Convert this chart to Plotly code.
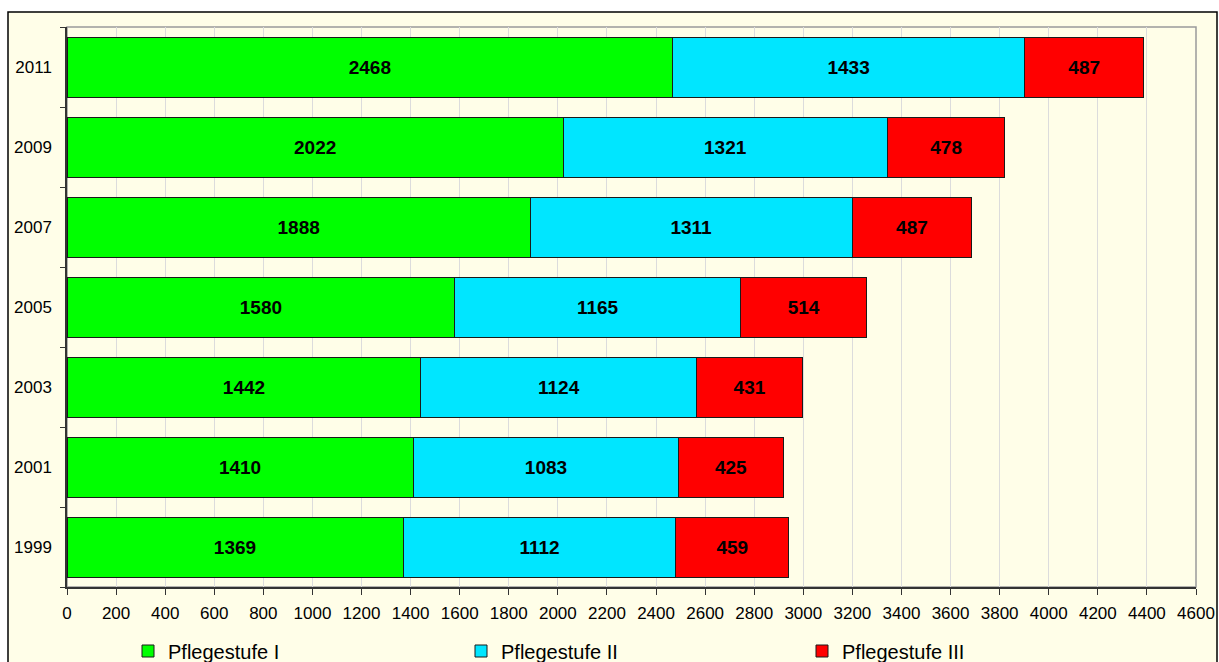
import plotly.graph_objects as go

years = ["1999", "2001", "2003", "2005", "2007", "2009", "2011"]
stufe_1 = [1369, 1410, 1442, 1580, 1888, 2022, 2468]
stufe_2 = [1112, 1083, 1124, 1165, 1311, 1321, 1433]
stufe_3 = [459, 425, 431, 514, 487, 478, 487]
series_names = ["Pflegestufe I", "Pflegestufe II", "Pflegestufe III"]
series_colors = ["#00FF00", "#00E6FF", "#FF0000"]
x_ticks = list(range(0, 4601, 200))

FONT = "Liberation Sans, Arial, sans-serif"
BG = "#FFFEE8"

W, H = 1219, 662
L, R, T, B = 67, 23, 27, 75
pw, ph = W - L - R, H - T - B

legend_ids = ["legend", "legend2", "legend3"]
legend_left_px = [128, 461, 802]

fig = go.Figure()
for name, vals, col, lg in zip(series_names, [stufe_1, stufe_2, stufe_3], series_colors, legend_ids):
    fig.add_trace(go.Bar(
        y=years, x=vals, name=name, orientation="h", legend=lg,
        marker=dict(color=col, line=dict(color="#1a1a1a", width=1)),
        text=[str(v) for v in vals], texttemplate="<b>%{text}</b>",
        textposition="inside", insidetextanchor="middle",
        textfont=dict(family=FONT, size=19, color="black"),
        constraintext="none", width=0.75,
    ))


def px_x(p):
    return (p - L) / pw


def px_y(p):
    return (H - B - p) / ph


# outer chart frame
fig.add_shape(type="rect", xref="paper", yref="paper",
              x0=px_x(8), x1=px_x(1217), y0=px_y(700), y1=px_y(12),
              line=dict(color="black", width=1.5), fillcolor=BG, layer="below")
# plot area frame
fig.add_shape(type="rect", xref="paper", yref="paper",
              x0=0, x1=1, y0=0, y1=1,
              line=dict(color="#9a9a9a", width=1.5), layer="below")

legend_style = dict(font=dict(family=FONT, size=20, color="black"),
                    bgcolor="rgba(0,0,0,0)", xref="container", yref="container",
                    xanchor="left", yanchor="middle", y=(H - 651) / H)
layout_legends = {
    lg: dict(legend_style, x=left / W) for lg, left in zip(legend_ids, legend_left_px)
}

fig.update_layout(
    barmode="stack", bargap=0.25,
    width=W, height=H,
    margin=dict(l=L, r=R, t=T, b=B, autoexpand=False),
    paper_bgcolor="white", plot_bgcolor=BG,
    font=dict(family=FONT, size=17, color="black"),
    showlegend=True,
    xaxis=dict(range=[0, 4600], tickvals=x_ticks, ticktext=[str(v) for v in x_ticks],
               showgrid=True, gridcolor="#DCDCDC", gridwidth=1,
               showline=True, linecolor="#333333", linewidth=1.5,
               ticks="outside", ticklen=6, tickcolor="#333333",
               tickfont=dict(size=17), ticklabelstandoff=4,
               zeroline=False, fixedrange=True),
    yaxis=dict(type="category", categoryorder="array", categoryarray=years,
               range=[-0.5, 6.5], tickson="boundaries",
               showline=True, linecolor="#333333", linewidth=1.5,
               ticks="outside", ticklen=5, tickcolor="#333333",
               tickfont=dict(size=17),
               ticklabelstandoff=10, showgrid=False, fixedrange=True),
    **layout_legends,
)

fig.write_html("out.html")
